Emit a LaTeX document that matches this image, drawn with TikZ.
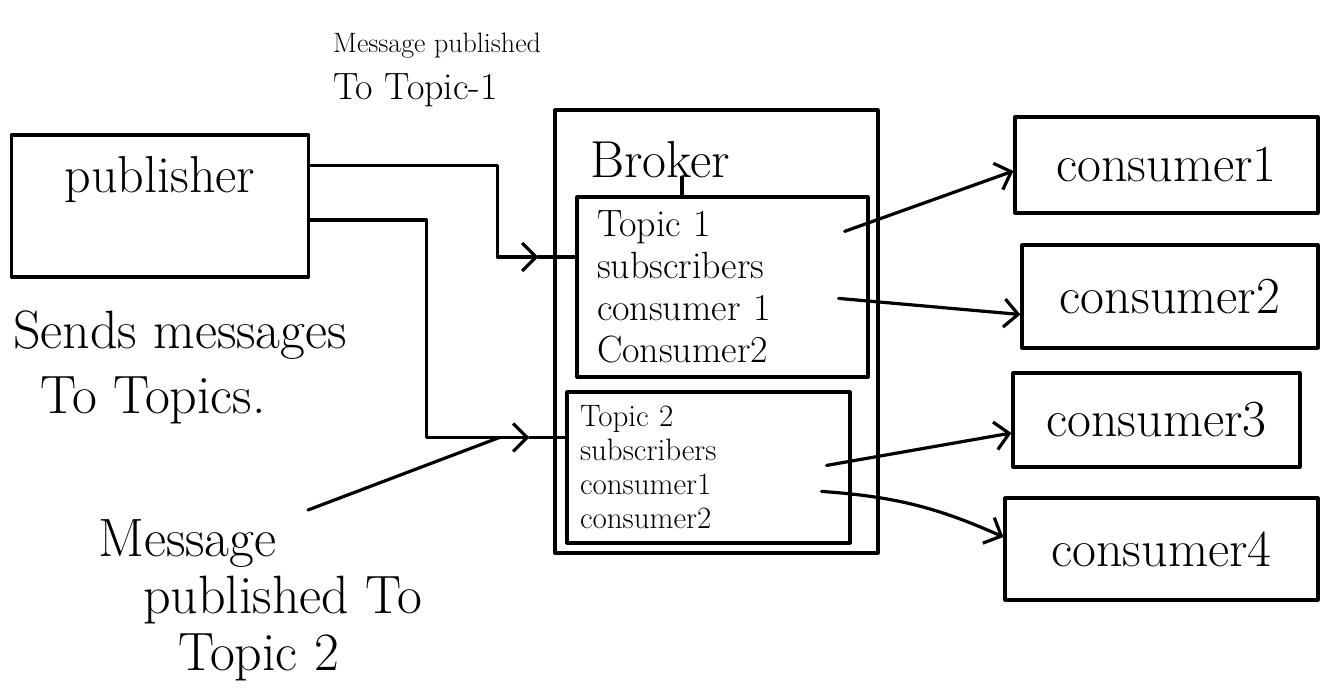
\documentclass[tikz,border=0pt]{standalone}
\usepackage{fontspec}
\usetikzlibrary{arrows.meta,calc}
\tikzset{
  ink/.style={line width=3.2pt, black, line cap=round, line join=round},
  box/.style={draw, ink, rectangle, inner sep=0pt},
  arr/.style={ink, -{Straight Barb[length=14pt,width=28pt,line width=3.2pt]}},
  big/.style={font=\fontsize{52}{58}\selectfont},
  note/.style={align=left, anchor=west, inner sep=0pt},
}
\begin{document}
\begin{tikzpicture}[x=1pt,y=-1pt]
\fill[white] (0,0) rectangle (1332,693);
\useasboundingbox (0,0) rectangle (1332,693);

% publisher
\node[box, minimum width=297pt, minimum height=142pt] (pub) at (160,206) {};
\node[big] (pubtxt) at (160,180) {publisher};

% broker with its two topics
\node[box, minimum width=323pt, minimum height=443pt] (broker) at (716.5,331.5) {};
\node[big] (brokertxt) at (660,160) {Broker};
\node[box, text width=251pt, inner xsep=20pt, inner ysep=0pt, minimum height=180pt,
      align=left, font=\fontsize{38}{42}\selectfont] (topic1) at (722.5,287)
      {Topic 1\\subscribers\\consumer 1\\Consumer2};
\node[box, text width=257pt, inner xsep=13pt, inner ysep=0pt, minimum height=151pt,
      align=left, font=\fontsize{31}{34}\selectfont] (topic2) at (708.5,467.5)
      {Topic 2\\subscribers\\consumer1\\consumer2};

% consumers
\node[box, big, minimum width=303pt, minimum height=96pt]  (c1) at (1166.5,165) {consumer1};
\node[box, big, minimum width=296pt, minimum height=103pt] (c2) at (1170,296.5) {consumer2};
\node[box, big, minimum width=287pt, minimum height=94pt]  (c3) at (1156.5,420) {consumer3};
\node[box, big, minimum width=313pt, minimum height=102pt] (c4) at (1161.5,549) {consumer4};

% free-standing notes
\node[note, font=\fontsize{38}{47}\selectfont] (msg1) at (333,70)
  {{\fontsize{28}{32}\selectfont Message published}\\To Topic-1};
\node[note, font=\fontsize{54}{65}\selectfont] (sends) at (13,367)
  {Sends messages\\\hspace*{27pt}To Topics.};
\node[note, font=\fontsize{54}{57}\selectfont] (msg2) at (98,600)
  {Message\\\hspace*{45pt}published To\\\hspace*{80pt}Topic 2};

% publisher -> topic 1
\coordinate (t1in) at ([yshift=30pt]topic1.west);
\coordinate (b1) at ([xshift=-37pt]t1in);
\draw[arr] ([yshift=-32pt]pub.north east) -- ++(187,0) |- (b1);
\draw[ink] (b1) -- (t1in);

% publisher -> topic 2
\coordinate (t2in) at ([yshift=30pt]topic2.west);
\coordinate (b2) at ([xshift=-36pt]t2in);
\draw[arr] ([yshift=-14pt]pub.east) -- ++(116,0) |- (b2);
\draw[ink] (b2) -- (t2in);

% note pointer
\coordinate (m2s) at (308,510);
\draw[ink] (m2s) -- ([xshift=-30pt]b2);

% broker label tie
\coordinate (bk) at ([xshift=22pt,yshift=-17pt]brokertxt.center);
\draw[ink] (bk) -- (bk |- topic1.north);

% topics -> consumers
\coordinate (t1a) at ([xshift=-25pt,yshift=-36pt]topic1.north east);
\coordinate (t1b) at ([xshift=-31pt,yshift=-103pt]topic1.north east);
\coordinate (t2a) at ([xshift=-25pt,yshift=-75pt]topic2.north east);
\coordinate (t2b) at ([xshift=-30pt,yshift=-101pt]topic2.north east);
\draw[arr] (t1a) -- ([yshift=-6pt]c1.west);
\draw[arr] (t1b) -- ([yshift=-18pt]c2.west);
\draw[arr] (t2a) -- ([yshift=-13pt]c3.west);
\draw[arr] (t2b) to[bend left=10] ([yshift=12pt]c4.west);
\end{tikzpicture}
\end{document}
